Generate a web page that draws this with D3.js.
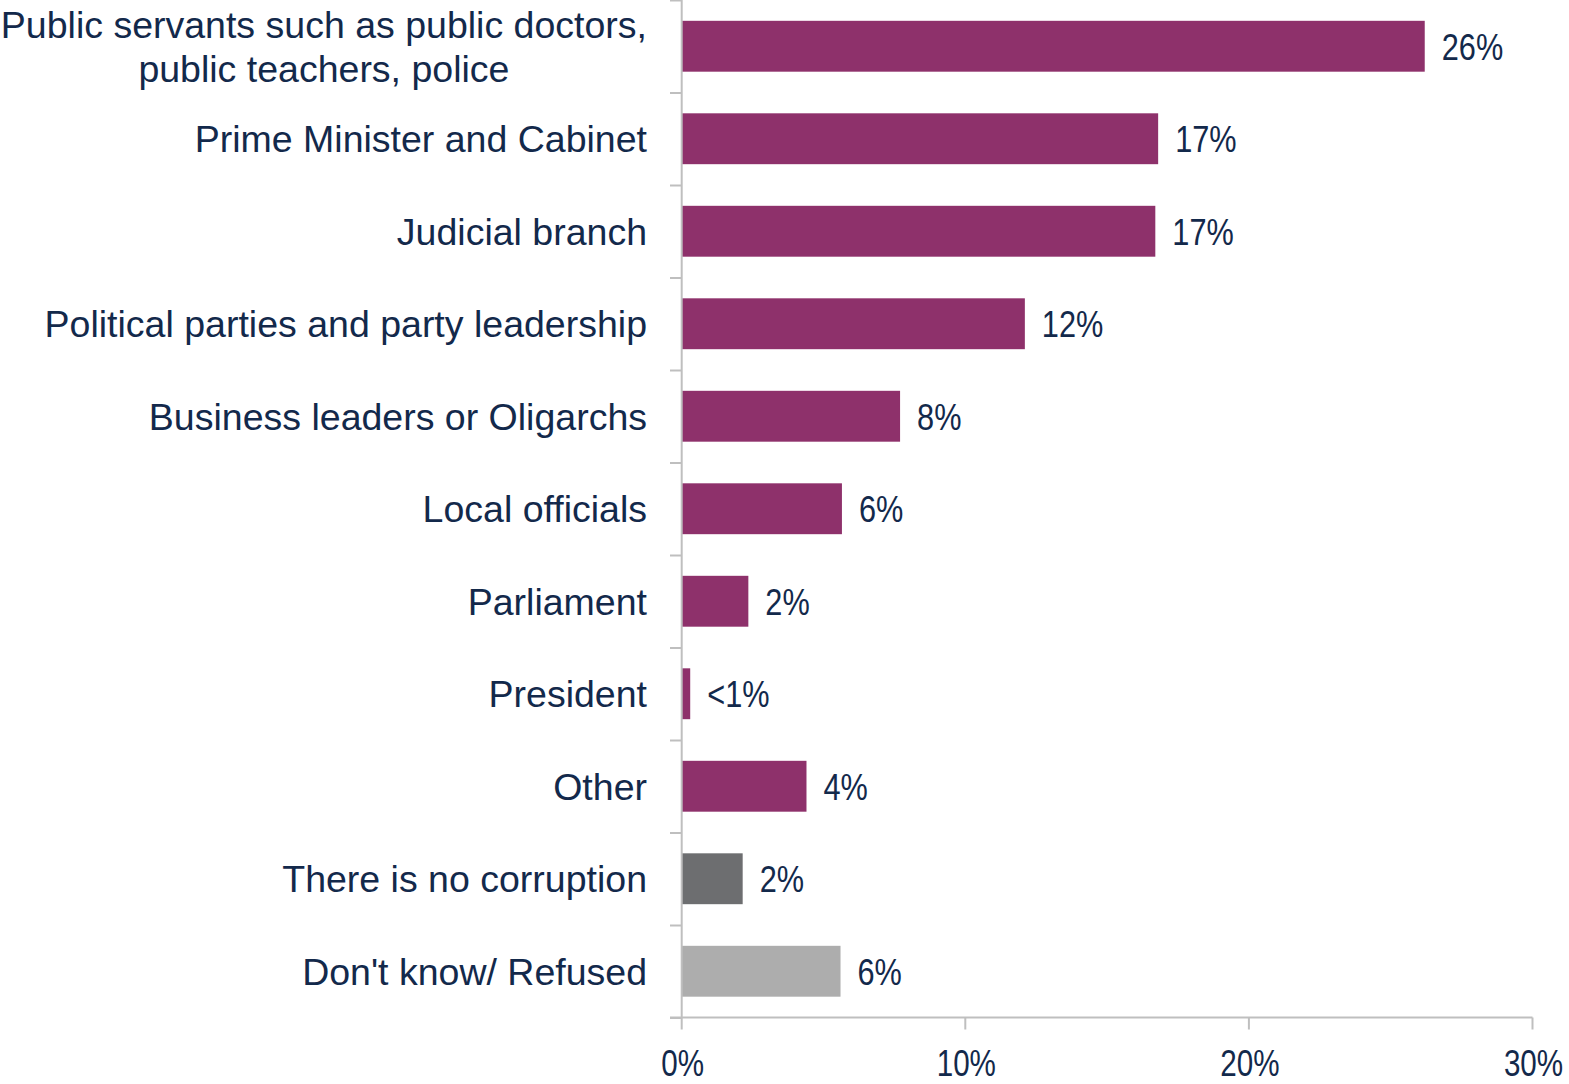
<!DOCTYPE html>
<html>
<head>
<meta charset="utf-8">
<script src="https://cdn.jsdelivr.net/npm/d3@7"></script>
<style>
  html, body { margin: 0; padding: 0; background: #fff; }
  svg { display: block; }
</style>
</head>
<body>
<svg id="chart" width="1569" height="1084"></svg>
<script>
const categories = [
  ["Public servants such as public doctors,", "public teachers, police"],
  ["Prime Minister and Cabinet"],
  ["Judicial branch"],
  ["Political parties and party leadership"],
  ["Business leaders or Oligarchs"],
  ["Local officials"],
  ["Parliament"],
  ["President"],
  ["Other"],
  ["There is no corruption"],
  ["Don't know/ Refused"]
];
const values = [26.2, 16.8, 16.7, 12.1, 7.7, 5.65, 2.35, 0.3, 4.4, 2.15, 5.6];
const valueLabels = ["26%", "17%", "17%", "12%", "8%", "6%", "2%", "<1%", "4%", "2%", "6%"];
const barColors = ["#8E316B", "#8E316B", "#8E316B", "#8E316B", "#8E316B", "#8E316B", "#8E316B", "#8E316B", "#8E316B", "#6D6E70", "#ADADAD"];
const xTicks = [0, 10, 20, 30];
const xTickLabels = ["0%", "10%", "20%", "30%"];

const textColor = "#13294B";
const axisColor = "#BFBFBF";
const svg = d3.select("#chart");

const x0 = 681.7, x1 = 1532.5, yTop = 0, yBot = 1017.5;
const x = d3.scaleLinear().domain([0, 30]).range([x0, x1]);
const idx = categories.map((d, i) => i);
const y = d3.scaleBand().domain(idx).range([yTop, yBot]).paddingInner(0.45).paddingOuter(0.225);
const step = y.step();

// bars
svg.append("g").selectAll("rect").data(values).join("rect")
  .attr("x", x(0))
  .attr("y", (d, i) => y(i))
  .attr("width", d => x(d) - x(0))
  .attr("height", y.bandwidth())
  .attr("fill", (d, i) => barColors[i]);

// value labels (condensed)
svg.append("g").selectAll("text").data(values).join("text")
  .attr("transform", (d, i) => `translate(${x(d) + 17},${y(i) + y.bandwidth() / 2 + 13.5}) scale(0.83,1)`)
  .attr("font-family", "'Liberation Sans', Arial, sans-serif")
  .attr("font-size", 37)
  .attr("fill", textColor)
  .text((d, i) => valueLabels[i]);

// left axis line and separators
const gy = svg.append("g");
gy.append("line").attr("x1", x0).attr("x2", x0).attr("y1", yTop).attr("y2", yBot)
  .attr("stroke", axisColor).attr("stroke-width", 2);
const seps = d3.range(categories.length + 1).map(i => yTop + i * step);
gy.selectAll("line.sep").data(seps).join("line").attr("class", "sep")
  .attr("x1", 670).attr("x2", x0).attr("y1", d => d + 0.5).attr("y2", d => d + 0.5)
  .attr("stroke", axisColor).attr("stroke-width", 2);

// category labels
const labelRight = 647;
const lineH = 43.5;
const catG = svg.append("g")
  .attr("font-family", "'Liberation Sans', Arial, sans-serif")
  .attr("font-size", 37.5)
  .attr("fill", textColor);
categories.forEach((lines, i) => {
  const cy = y(i) + y.bandwidth() / 2;
  if (lines.length === 1) {
    catG.append("text").attr("x", labelRight).attr("y", cy + 13.6)
      .attr("text-anchor", "end").text(lines[0]);
  } else {
    const t = catG.append("text").attr("text-anchor", "middle");
    const n = lines.length;
    lines.forEach((l, j) => {
      t.append("tspan").attr("y", cy + 13.6 + (j - (n - 1) / 2) * lineH).text(l);
    });
    let maxW = 0;
    t.selectAll("tspan").each(function() { maxW = Math.max(maxW, this.getComputedTextLength()); });
    t.selectAll("tspan").attr("x", labelRight - maxW / 2);
  }
});

// bottom axis
const gx = svg.append("g");
gx.append("line").attr("x1", 670).attr("x2", x1).attr("y1", yBot).attr("y2", yBot)
  .attr("stroke", axisColor).attr("stroke-width", 2);
gx.selectAll("line.tick").data(xTicks).join("line").attr("class", "tick")
  .attr("x1", d => x(d)).attr("x2", d => x(d)).attr("y1", yBot).attr("y2", yBot + 12)
  .attr("stroke", axisColor).attr("stroke-width", 2);
gx.selectAll("text").data(xTicks).join("text")
  .attr("transform", d => `translate(${x(d) + 1},${1076}) scale(0.8,1)`)
  .attr("text-anchor", "middle")
  .attr("font-family", "'Liberation Sans', Arial, sans-serif")
  .attr("font-size", 37)
  .attr("fill", textColor)
  .text((d, i) => xTickLabels[i]);
</script>
</body>
</html>
